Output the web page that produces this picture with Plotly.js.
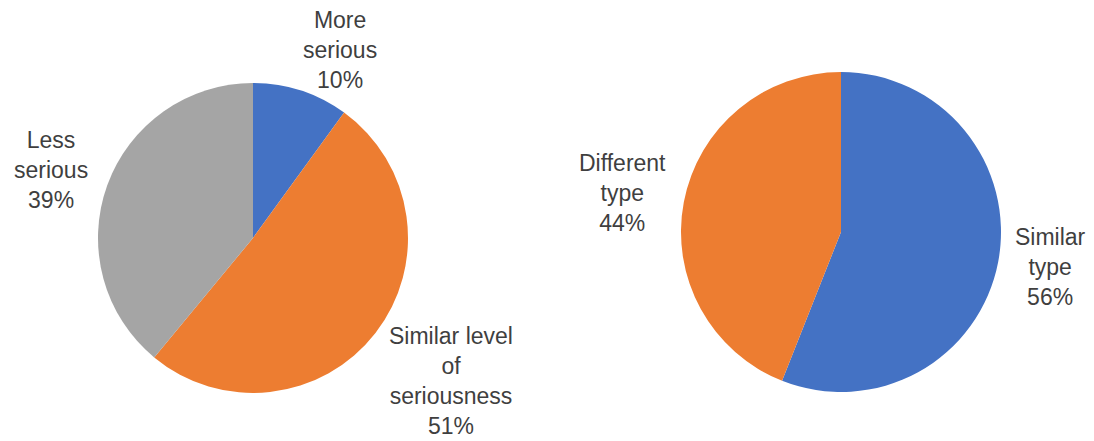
<!DOCTYPE html>
<html>
<head>
<meta charset="utf-8">
<script src="https://cdn.plot.ly/plotly-3.0.1.min.js"></script>
<style>html,body{margin:0;padding:0;background:#fff;}#chart{width:1094px;height:441px;}</style>
</head>
<body>
<div id="chart"></div>
<script>
// Left pie: seriousness
const seriousLabels = ['More serious', 'Similar level of seriousness', 'Less serious'];
const seriousValues = [10, 51, 39];
const seriousColors = ['#4472C4', '#ED7D31', '#A5A5A5'];

// Right pie: type
const typeLabels = ['Similar type', 'Different type'];
const typeValues = [56, 44];
const typeColors = ['#4472C4', '#ED7D31'];

// line-wrapped display text for each category
const wrapped = {
  'More serious': 'More<br>serious',
  'Similar level of seriousness': 'Similar level<br>of<br>seriousness',
  'Less serious': 'Less<br>serious',
  'Similar type': 'Similar<br>type',
  'Different type': 'Different<br>type'
};

// label placement (paper coords)
const labelPos = {
  'More serious': [0.3108, 0.887],
  'Similar level of seriousness': [0.4122, 0.137],
  'Less serious': [0.0466, 0.615],
  'Similar type': [0.9598, 0.395],
  'Different type': [0.5686, 0.562]
};

function pct(values, i) {
  const s = values.reduce((a, b) => a + b, 0);
  return Math.round(values[i] / s * 100) + '%';
}

const W = 1094, H = 441;
function dom(cx, cy, r) {
  return {
    x: [(cx - r) / W, (cx + r) / W],
    y: [(H - cy - r) / H, (H - cy + r) / H]
  };
}

const traces = [
  {
    type: 'pie', labels: seriousLabels, values: seriousValues,
    marker: {colors: seriousColors, line: {width: 0}},
    sort: false, direction: 'clockwise', rotation: 0,
    textinfo: 'none', hoverinfo: 'label+percent',
    domain: dom(253, 238, 155), showlegend: false
  },
  {
    type: 'pie', labels: typeLabels, values: typeValues,
    marker: {colors: typeColors, line: {width: 0}},
    sort: false, direction: 'clockwise', rotation: 0,
    textinfo: 'none', hoverinfo: 'label+percent',
    domain: dom(841, 232, 160), showlegend: false
  }
];

const annotations = [];
seriousLabels.forEach((l, i) => {
  annotations.push({text: wrapped[l] + '<br>' + pct(seriousValues, i), x: labelPos[l][0], y: labelPos[l][1]});
});
typeLabels.forEach((l, i) => {
  annotations.push({text: wrapped[l] + '<br>' + pct(typeValues, i), x: labelPos[l][0], y: labelPos[l][1]});
});
annotations.forEach(a => {
  a.xref = 'paper'; a.yref = 'paper'; a.showarrow = false;
  a.xanchor = 'center'; a.yanchor = 'middle'; a.align = 'center';
  a.font = {family: 'Liberation Sans, Arial, sans-serif', size: 23, color: '#3f3f3f'};
});

const layout = {
  width: W, height: H,
  margin: {l: 0, r: 0, t: 0, b: 0},
  paper_bgcolor: '#ffffff',
  showlegend: false,
  annotations: annotations
};

Plotly.newPlot('chart', traces, layout, {displayModeBar: false, staticPlot: true});
</script>
</body>
</html>
